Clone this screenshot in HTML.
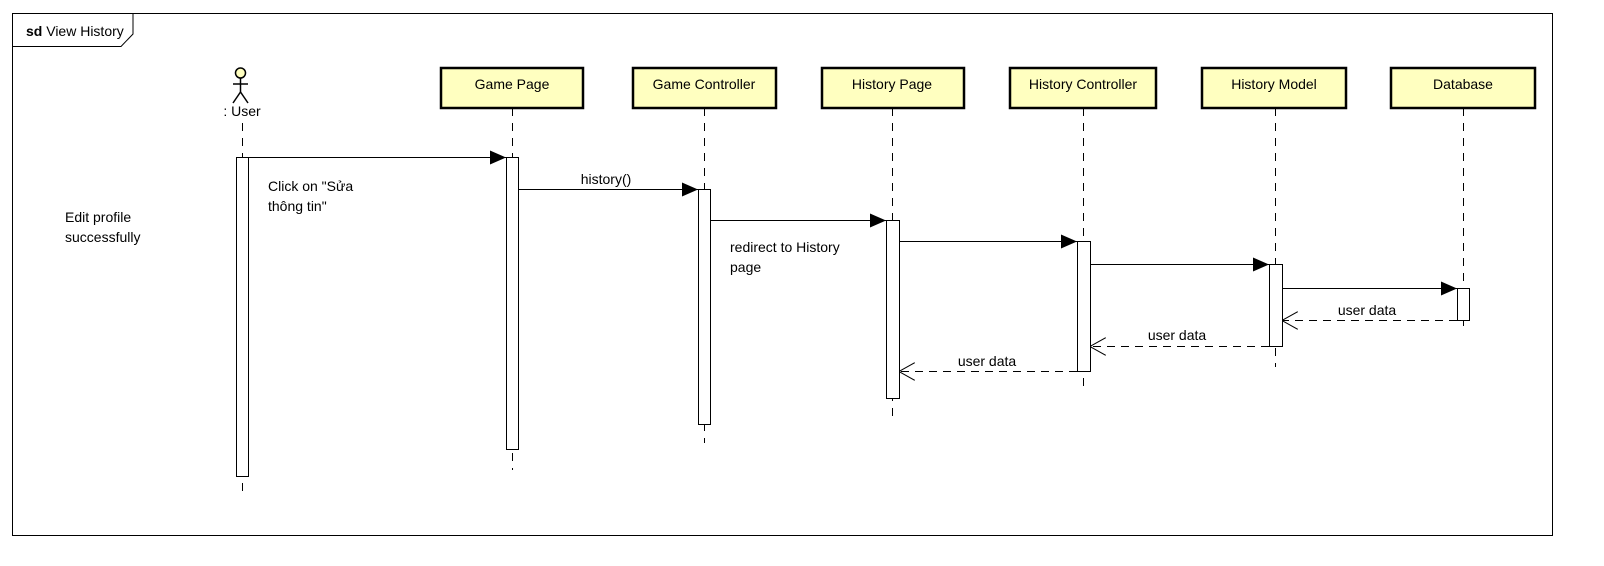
<!DOCTYPE html>
<html><head><meta charset="utf-8"><style>
html,body{margin:0;padding:0;background:#fff;}
svg text{font-family:"Liberation Sans",sans-serif;font-size:14px;fill:#000;}
</style></head><body>
<svg width="1604" height="561" viewBox="0 0 1604 561" xmlns="http://www.w3.org/2000/svg">
<rect x="12.5" y="13.5" width="1540" height="522" fill="#fff" stroke="#000" stroke-width="1"/>
<path d="M12.5 46.5 H121 L133 34 V13.5" fill="none" stroke="#000"/>
<text x="26" y="36"><tspan font-weight="bold">sd</tspan> View History</text>
<defs><marker id="f" markerWidth="16" markerHeight="14" refX="16" refY="7" orient="auto" markerUnits="userSpaceOnUse"><path d="M0 0 L16 7 L0 14Z" fill="#000"/></marker>
<marker id="o" markerWidth="16" markerHeight="18" refX="16" refY="9" orient="auto" markerUnits="userSpaceOnUse"><path d="M0 0 L16 9 L0 18" fill="none" stroke="#000"/></marker></defs>
<g stroke="#000" stroke-width="1" stroke-dasharray="8,7" fill="none">
<line x1="242.5" y1="123" x2="242.5" y2="496"/>
<line x1="512.5" y1="108" x2="512.5" y2="470"/>
<line x1="704.5" y1="108" x2="704.5" y2="443"/>
<line x1="892.5" y1="108" x2="892.5" y2="416"/>
<line x1="1083.5" y1="108" x2="1083.5" y2="391"/>
<line x1="1275.5" y1="108" x2="1275.5" y2="367"/>
<line x1="1463.5" y1="108" x2="1463.5" y2="333"/>
</g>
<g stroke="#000" stroke-width="1.5" fill="none">
<circle cx="240.5" cy="73" r="5" fill="#ffffc0"/>
<line x1="240.5" y1="78" x2="240.5" y2="92"/>
<line x1="233" y1="84" x2="248" y2="84"/>
<line x1="240.5" y1="92" x2="233" y2="103"/>
<line x1="240.5" y1="92" x2="248" y2="103"/>
</g>
<text x="242" y="116" text-anchor="middle">: User</text>
<g fill="#ffffc0" stroke="#000" stroke-width="2.5">
<rect x="441" y="68" width="142" height="40"/>
<rect x="633" y="68" width="143" height="40"/>
<rect x="822" y="68" width="142" height="40"/>
<rect x="1010" y="68" width="146" height="40"/>
<rect x="1202" y="68" width="144" height="40"/>
<rect x="1391" y="68" width="144" height="40"/>
</g>
<g text-anchor="middle">
<text x="512" y="89">Game Page</text>
<text x="704" y="89">Game Controller</text>
<text x="892" y="89">History Page</text>
<text x="1083" y="89">History Controller</text>
<text x="1274" y="89">History Model</text>
<text x="1463" y="89">Database</text>
</g>
<g fill="#fff" stroke="#000" stroke-width="1">
<rect x="236.5" y="157.5" width="12" height="319"/>
<rect x="506.5" y="157.5" width="12" height="292"/>
<rect x="698.5" y="189.5" width="12" height="235"/>
<rect x="886.5" y="220.5" width="13" height="178"/>
<rect x="1077.5" y="241.5" width="13" height="130"/>
<rect x="1269.5" y="264.5" width="13" height="82"/>
<rect x="1457.5" y="288.5" width="12" height="32"/>
</g>
<g stroke="#000" stroke-width="1" fill="none">
<line x1="248" y1="157.5" x2="506" y2="157.5" marker-end="url(#f)"/>
<line x1="518" y1="189.5" x2="698" y2="189.5" marker-end="url(#f)"/>
<line x1="710" y1="220.5" x2="886" y2="220.5" marker-end="url(#f)"/>
<line x1="899" y1="241.5" x2="1077" y2="241.5" marker-end="url(#f)"/>
<line x1="1090" y1="264.5" x2="1269" y2="264.5" marker-end="url(#f)"/>
<line x1="1282" y1="288.5" x2="1457" y2="288.5" marker-end="url(#f)"/>
<g stroke-dasharray="8,6">
<line x1="1457" y1="320.5" x2="1282" y2="320.5" marker-end="url(#o)"/>
<line x1="1269" y1="346.5" x2="1090" y2="346.5" marker-end="url(#o)"/>
<line x1="1077" y1="371.5" x2="899" y2="371.5" marker-end="url(#o)"/>
</g>
</g>
<text x="268" y="191">Click on "Sửa</text>
<text x="268" y="211">thông tin"</text>
<text x="65" y="222">Edit profile</text>
<text x="65" y="242">successfully</text>
<text x="606" y="184" text-anchor="middle">history()</text>
<text x="730" y="252">redirect to History</text>
<text x="730" y="272">page</text>
<text x="1367" y="315" text-anchor="middle">user data</text>
<text x="1177" y="340" text-anchor="middle">user data</text>
<text x="987" y="366" text-anchor="middle">user data</text>
</svg>
</body></html>
